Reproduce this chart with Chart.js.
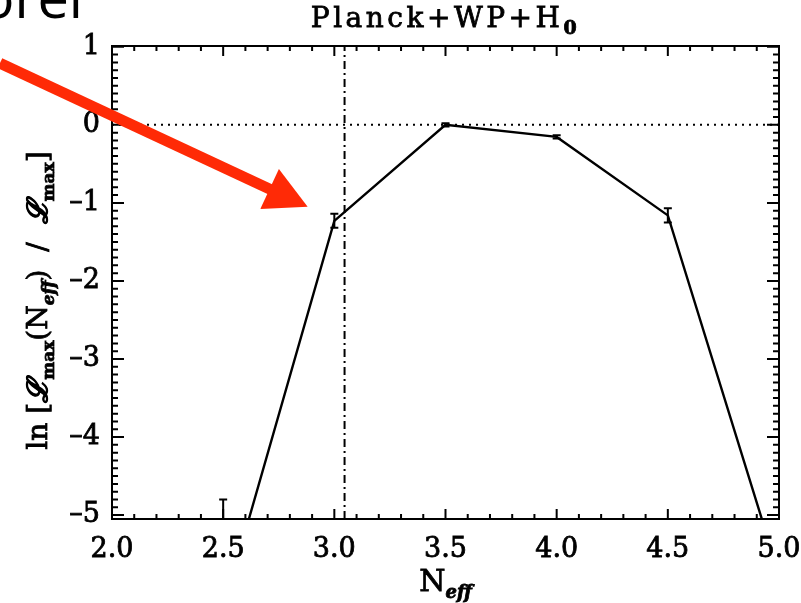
<!DOCTYPE html>
<html>
<head>
<meta charset="utf-8">
<script src="https://cdn.jsdelivr.net/npm/chart.js@4"></script>
<style>
  html, body { margin: 0; padding: 0; background: #fff; }
  canvas { display: block; }
</style>
</head>
<body>
<canvas id="grafico" width="801" height="603"></canvas>
<script>
// values
const nEff = [2.5, 3.0, 3.5, 4.0, 4.5, 5.0];
const lnLike = [-6.2, -1.23, 0.0, -0.155, -1.16, -5.76];
const lnErr = [1.4, 0.09, 0.02, 0.02, 0.09, 0.1];
const xTicks = [2.0, 2.5, 3.0, 3.5, 4.0, 4.5, 5.0];
const yTicks = [1, 0, -1, -2, -3, -4, -5];
const xRange = [2.0, 5.0];
const yRange = [-5.05, 1.01];
const nEffStandard = 3.046;
// arrow annotation, in data units (tail lies off the plot)
const arrowTail = [1.496, 0.79];
const arrowTip = [2.88, -1.05];

const serif = '"DejaVu Serif", serif';
const tickFont = { family: '"DejaVu Serif", serif', size: 27 };

// draw a string made of parts (for subscripts), centred at x
function drawParts(ctx, parts, x, y, spacing) {
  ctx.letterSpacing = (spacing || 0) + 'px';
  let w = 0;
  parts.forEach(p => { ctx.font = p.font; p.w = ctx.measureText(p.t).width; w += p.w; });
  let cx = x - w / 2;
  ctx.textAlign = 'left';
  ctx.textBaseline = 'alphabetic';
  parts.forEach(p => {
    ctx.font = p.font;
    ctx.fillText(p.t, cx, y + (p.dy || 0));
    ctx.strokeText(p.t, cx, y + (p.dy || 0));
    cx += p.w;
  });
  ctx.letterSpacing = '0px';
}

const decorations = {
  id: 'decorations',
  afterDatasetsDraw(chart) {
    const { ctx, chartArea: a, scales: { x, y } } = chart;
    ctx.save();
    ctx.beginPath();
    ctx.rect(a.left, a.top, a.right - a.left, a.bottom - a.top);
    ctx.clip();
    ctx.strokeStyle = '#000';
    ctx.lineWidth = 2;
    nEff.forEach((xv, i) => {
      const px = x.getPixelForValue(xv);
      const y1 = y.getPixelForValue(lnLike[i] + lnErr[i]);
      const y2 = y.getPixelForValue(lnLike[i] - lnErr[i]);
      ctx.beginPath();
      ctx.moveTo(px, y1); ctx.lineTo(px, y2);
      ctx.moveTo(px - 4, y1); ctx.lineTo(px + 4, y1);
      ctx.moveTo(px - 4, y2); ctx.lineTo(px + 4, y2);
      ctx.stroke();
    });
    ctx.restore();
  },
  afterDraw(chart) {
    const { ctx, chartArea: a, scales: { x, y } } = chart;
    ctx.save();
    ctx.strokeStyle = '#000';
    ctx.fillStyle = '#000';
    ctx.lineWidth = 2;
    ctx.strokeRect(a.left, a.top, a.right - a.left, a.bottom - a.top);

    // inward ticks, minor every 0.1
    ctx.beginPath();
    for (let i = Math.round(xRange[0] * 10); i <= Math.round(xRange[1] * 10); i++) {
      const px = x.getPixelForValue(i / 10);
      const len = i % 5 === 0 ? 10 : 5;
      ctx.moveTo(px, a.bottom); ctx.lineTo(px, a.bottom - len);
      ctx.moveTo(px, a.top); ctx.lineTo(px, a.top + len);
    }
    for (let i = Math.ceil(yRange[0] * 10); i <= Math.floor(yRange[1] * 10); i++) {
      const py = y.getPixelForValue(i / 10);
      const len = i % 10 === 0 ? 12 : 6;
      ctx.moveTo(a.left, py); ctx.lineTo(a.left + len, py);
      ctx.moveTo(a.right, py); ctx.lineTo(a.right - len, py);
    }
    ctx.stroke();

    ctx.lineWidth = 0.8;
    // title
    drawParts(ctx, [
      { t: 'Planck+WP+H', font: '28px ' + serif },
      { t: '0', font: 'bold 19px ' + serif, dy: 7 }
    ], (a.left + a.right) / 2, 27, 3.5);

    // x title
    drawParts(ctx, [
      { t: 'N', font: '30px ' + serif },
      { t: 'eff', font: 'bold italic 18px ' + serif, dy: 7 }
    ], (a.left + a.right) / 2, 591);

    // y title
    ctx.save();
    ctx.translate(47, (a.top + a.bottom) / 2 + 18);
    ctx.rotate(-Math.PI / 2);
    drawParts(ctx, [
      { t: 'ln [', font: '28px ' + serif },
      { t: 'ℒ', font: 'bold italic 28px ' + serif },
      { t: 'max', font: 'bold 17px ' + serif, dy: 7 },
      { t: '(N', font: '28px ' + serif },
      { t: 'eff', font: 'bold italic 17px ' + serif, dy: 7 },
      { t: ')  /  ', font: '28px ' + serif },
      { t: 'ℒ', font: 'bold italic 28px ' + serif },
      { t: 'max', font: 'bold 17px ' + serif, dy: 7 },
      { t: ']', font: '28px ' + serif }
    ], 0, 0);
    ctx.restore();

    // red arrow
    const tx = x.getPixelForValue(arrowTail[0]), ty = y.getPixelForValue(arrowTail[1]);
    const hx = x.getPixelForValue(arrowTip[0]), hy = y.getPixelForValue(arrowTip[1]);
    const ang = Math.atan2(hy - ty, hx - tx);
    const headLen = 42, headHalf = 22;
    const bx = hx - headLen * Math.cos(ang), by = hy - headLen * Math.sin(ang);
    ctx.strokeStyle = '#ff2a06';
    ctx.fillStyle = '#ff2a06';
    ctx.lineWidth = 11;
    ctx.beginPath();
    ctx.moveTo(tx, ty); ctx.lineTo(bx + 2 * Math.cos(ang), by + 2 * Math.sin(ang));
    ctx.stroke();
    ctx.beginPath();
    ctx.moveTo(hx, hy);
    ctx.lineTo(bx - headHalf * Math.sin(ang), by + headHalf * Math.cos(ang));
    ctx.lineTo(bx + headHalf * Math.sin(ang), by - headHalf * Math.cos(ang));
    ctx.closePath();
    ctx.fill();

    // slide text cut off at the top
    ctx.fillStyle = '#000';
    ctx.font = '56px "Open Sans", sans-serif';
    ctx.textAlign = 'right';
    ctx.textBaseline = 'alphabetic';
    ctx.fillText('orel', 83, 18);
    ctx.restore();
  }
};

const ctx = document.getElementById('grafico').getContext('2d');

const data = {
  datasets: [
    {
      data: nEff.map((v, i) => ({ x: v, y: lnLike[i] })),
      showLine: true,
      borderColor: '#000',
      borderWidth: 2.4,
      pointRadius: 0
    },
    {
      data: [{ x: xRange[0], y: 0 }, { x: xRange[1], y: 0 }],
      showLine: true,
      borderColor: '#000',
      borderWidth: 2,
      borderDash: [2, 5],
      pointRadius: 0
    },
    {
      data: [{ x: nEffStandard, y: yRange[0] }, { x: nEffStandard, y: yRange[1] }],
      showLine: true,
      borderColor: '#000',
      borderWidth: 2,
      borderDash: [8, 4, 2, 4],
      pointRadius: 0
    }
  ]
};

const config = {
  type: 'scatter',
  data: data,
  plugins: [decorations],
  options: {
    responsive: false,
    animation: false,
    devicePixelRatio: 1,
    layout: { padding: { top: 46, right: 22, left: 0, bottom: 0 } },
    plugins: { legend: { display: false }, tooltip: { enabled: false }, title: { display: false } },
    scales: {
      x: {
        type: 'linear',
        position: 'bottom',
        min: xRange[0],
        max: xRange[1],
        afterBuildTicks: s => { s.ticks = xTicks.map(v => ({ value: v })); },
        afterFit: s => { s.height = 84; s.paddingLeft = 0; s.paddingRight = 0; },
        grid: { display: false, drawTicks: false },
        border: { display: false },
        ticks: {
          color: '#000',
          font: tickFont,
          padding: 15,
          maxRotation: 0,
          textStrokeColor: '#000',
          textStrokeWidth: 0.8,
          callback: v => v.toFixed(1)
        }
      },
      y: {
        type: 'linear',
        position: 'left',
        min: yRange[0],
        max: yRange[1],
        afterBuildTicks: s => { s.ticks = yTicks.map(v => ({ value: v })); },
        afterFit: s => { s.width = 112; },
        grid: { display: false, drawTicks: false },
        border: { display: false },
        ticks: {
          color: '#000',
          font: tickFont,
          padding: 12,
          textStrokeColor: '#000',
          textStrokeWidth: 0.8,
          callback: v => v < 0 ? '\u2013' + Math.abs(v) : String(v)
        }
      }
    }
  }
};

const myChart = new Chart(ctx, config);
</script>
</body>
</html>
